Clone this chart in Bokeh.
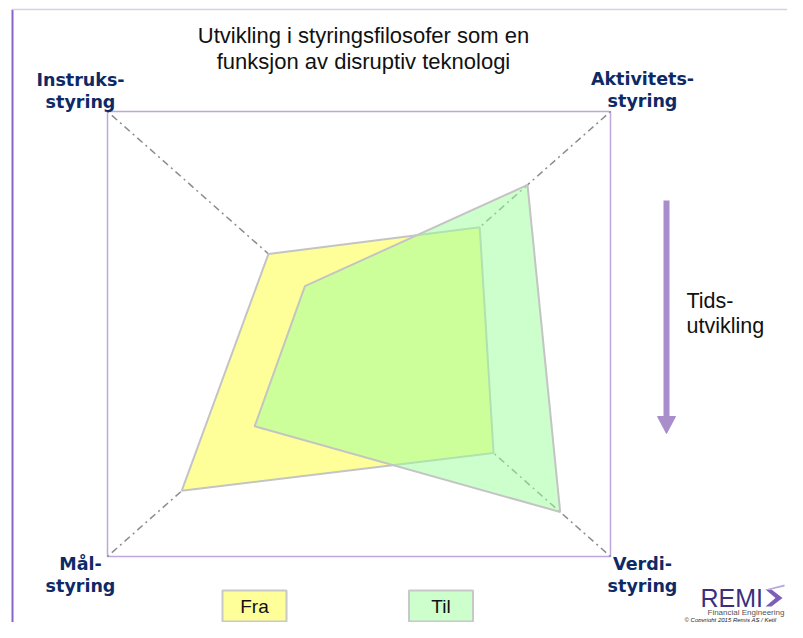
from bokeh.plotting import figure
from bokeh.models import Range1d
from bokeh.core.properties import value
from bokeh.embed import file_html
from bokeh.resources import INLINE

# ---- data ----
axes_labels = ["Instruks-\nstyring", "Aktivitets-\nstyring", "Verdi-\nstyring", "Mål-\nstyring"]
series_names = ["Fra", "Til"]
fra_values = [3.6, 4.8, 5.35, 7.05]   # scale 0..10 (10 = corner of frame)
til_values = [2.15, 6.7, 8.0, 4.15]
scale_max = 10.0
title_lines = ["Utvikling i styringsfilosofer som en", "funksjon av disruptiv teknologi"]
arrow_label = ["Tids-", "utvikling"]

# ---- geometry (pixel-like data units) ----
W, H = 787, 622
p = figure(width=W, height=H, output_backend="svg", toolbar_location=None,
           x_range=Range1d(0, W), y_range=Range1d(H, 0),
           min_border=0, outline_line_color=None)
p.axis.visible = False
p.grid.visible = False
p.background_fill_color = "white"

# page border lines
p.line([12, 12], [9, 640], line_color="#8a63c6", line_width=2)
p.line([12, 803], [9, 9], line_color="#dccfe3", line_width=1.5)

x0, x1, y0, y1 = 107, 610, 111, 556
cx, cy = (x0 + x1) / 2, (y0 + y1) / 2
# corner directions: Instruks (TL), Aktivitet (TR), Verdi (BR), Mål (BL)
corners = [(x0, y0), (x1, y0), (x1, y1), (x0, y1)]

# frame
p.line([x0, x1, x1, x0, x0], [y0, y0, y1, y1, y0], line_color="#bfa6dc", line_width=1.5)
# diagonals
for (qx, qy) in corners:
    p.line([cx, qx], [cy, qy], line_color="#8c8c8c", line_width=1.5, line_dash="7 4 2 4")

def radar(vals):
    xs, ys = [], []
    for v, (qx, qy) in zip(vals, corners):
        t = v / scale_max
        xs.append(cx + (qx - cx) * t)
        ys.append(cy + (qy - cy) * t)
    return xs, ys

fx, fy = radar(fra_values)
tx, ty = radar(til_values)
p.patch(fx, fy, fill_color="#ffff99", fill_alpha=1.0, line_color="#c4c4c4", line_width=2)
p.patch(tx, ty, fill_color="#99ff99", fill_alpha=0.5, line_color="#c4c4c4", line_width=2)

# title
p.text(x=[363, 363], y=[35, 61], text=title_lines, text_align="center", text_baseline="middle",
       text_font=value("Liberation Sans"), text_font_size="22px", text_color="#111111")

# corner labels
lab_pos = [(80, 79), (642, 78), (642, 563), (80, 563)]
for lab, (lx, ly) in zip(axes_labels, lab_pos):
    l1, l2 = lab.split("\n")
    p.text(x=[lx, lx], y=[ly, ly + 22], text=[l1, l2], text_align="center", text_baseline="middle",
           text_font=value("DejaVu Sans"), text_font_style="bold", text_font_size="17.5px",
           text_color="#0d2a66")

# time arrow
p.line([666, 666], [200, 418], line_color="#a88fcc", line_width=6)
p.patch([657, 675, 666], [416, 416, 433], fill_color="#a88fcc", line_color="#a88fcc")
p.text(x=[686, 686], y=[300, 325], text=arrow_label, text_align="left", text_baseline="middle",
       text_font=value("Liberation Sans"), text_font_size="21.5px", text_color="#111111")

# legend boxes
leg_fill = ["#ffff99", "#ccffcc"]
leg_x = [254, 440.5]
p.rect(x=leg_x, y=[605.5, 605.5], width=64, height=31, fill_color=leg_fill,
       line_color="#c8c8c8", line_width=2)
p.text(x=leg_x, y=[606, 606], text=series_names, text_align="center", text_baseline="middle",
       text_font=value("Liberation Sans"), text_font_size="19px", text_color="#111111")

# logo
p.text(x=[700], y=[597], text=["REMI"], text_align="left", text_baseline="middle",
       text_font=value("Liberation Sans"), text_font_size="25px", text_color="#3b2f7d")
p.patch([765, 771, 782, 771, 765, 775], [589, 589, 597.5, 606, 606, 597.5],
        fill_color="#7d5fb8", line_color=None)
p.patch([765, 784, 784, 771], [589, 584, 586, 589], fill_color="#b8a6dc", line_color=None)
p.text(x=[707], y=[612], text=["Financial Engineering"], text_align="left", text_baseline="middle",
       text_font=value("Liberation Sans"), text_font_size="8px", text_color="#555555")
p.text(x=[684], y=[619.5], text=["\u00a9 Copyright  2015 Remis AS / Ketil"], text_align="left",
       text_baseline="middle", text_font=value("Liberation Sans"), text_font_style="italic",
       text_font_size="6px", text_color="#222222")

open("out.html", "w").write(file_html(p, INLINE))
